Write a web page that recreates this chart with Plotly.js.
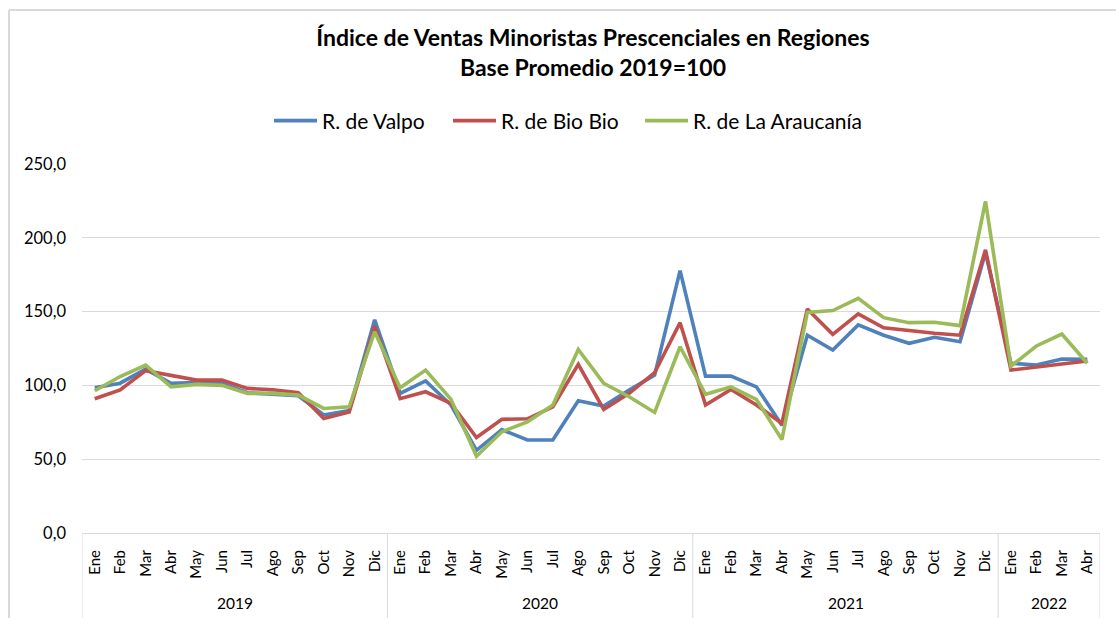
<!DOCTYPE html>
<html>
<head>
<meta charset="utf-8">
<script src="https://cdn.plot.ly/plotly-3.0.1.min.js"></script>
<style>html,body{margin:0;padding:0;background:#fff;}#chart{width:1116px;height:618px;}</style>
</head>
<body>
<div id="chart"></div>
<script>
const years = ["2019","2020","2021","2022"];
const monthsPerYear = [12,12,12,4];
const months = ["Ene","Feb","Mar","Abr","May","Jun","Jul","Ago","Sep","Oct","Nov","Dic"];

const valpo = [98.4,101.5,111,101.4,102,101.4,95,94,93,80,83,144.5,
               94.6,103,86.7,56,70,63,63,89.6,86,96.8,107,177.8,
               106.3,106.3,99,73,134,124,141,134,128.5,132.6,129.6,190,
               115,113.8,117.9,117.6];
const bioBio = [91,97,110,107,103.6,103.6,98,97,95,77.6,82,140,
                91,95.7,87.8,64.7,77,77.4,85.5,114.3,83.7,94.6,108.6,142.5,
                86.7,97.3,86.7,74.3,151.8,134.6,148.4,139,136.9,135.3,134,191.9,
                110.4,112.7,114.5,116.5];
const araucania = [96.4,106,113.8,99,100.7,100,94.6,94.6,93.4,84.4,85.5,136.4,
                   98.4,110.4,90.5,52,68.6,75.3,86.7,124.4,101.4,92.3,81.7,126.2,
                   94,99,90.5,63.3,149.5,150.7,159,145.9,142.5,142.8,140.5,224.7,
                   113,126.7,134.8,115];

// category index axis built from the month/year lists
const xMonth = [], xIdx = [];
const groupCenters = [], bounds = [0];
let cum = 0;
years.forEach((y,i)=>{
  for(let m=0;m<monthsPerYear[i];m++){ xIdx.push(xMonth.length); xMonth.push(months[m]); }
  groupCenters.push(cum + (monthsPerYear[i]-1)/2);
  cum += monthsPerYear[i];
  bounds.push(cum);
});
const nCat = xMonth.length;

const font = "Lato, 'Open Sans', sans-serif";
const mk = (name, y, color, legend) => ({
  type:'scatter', mode:'lines', name:name, x:xIdx, y:y, legend:legend,
  line:{color:color, width:3.6}, hoverinfo:'skip'
});

const data = [
  mk('R. de Valpo', valpo, '#4F81BD', 'legend'),
  mk('R. de Bio Bio', bioBio, '#C0504D', 'legend2'),
  mk('R. de La Araucanía', araucania, '#9BBB59', 'legend3')
];

const plotH = 369, plotW = 1018;
const bottomPaper = (533-625)/plotH;
const dividers = bounds.map(b=>({type:'line', xref:'x', yref:'paper', x0:b-0.5, x1:b-0.5, y0:0, y1:bottomPaper,
                 line:{color:'#d9d9d9', width:1}}));
const yearLabels = years.map((y,i)=>({text:y, xref:'x', yref:'paper', x:groupCenters[i], y:(533-603)/plotH,
                 xanchor:'center', yanchor:'middle', showarrow:false, font:{family:font, size:15.5, color:'#000'}}));

const legendBase = (px) => ({orientation:'h', x:(px-82)/plotW, xanchor:'left', y:(533-121)/plotH, yanchor:'middle',
          itemwidth:43, font:{family:font, size:21, color:'#000'}, bgcolor:'rgba(0,0,0,0)'});

const layout = {
  width:1116, height:618,
  margin:{l:82, r:16, t:164, b:85},
  paper_bgcolor:'#fff', plot_bgcolor:'#fff',
  separators:',.',
  font:{family:font, size:15, color:'#000'},
  title:{text:'<b>Índice de Ventas Minoristas Prescenciales en Regiones<br>Base Promedio 2019=100</b>',
         font:{family:font, size:23, color:'#000'},
         x:593/1116, xanchor:'center', xref:'container',
         y:1-46/618, yanchor:'middle', yref:'container'},
  showlegend:true,
  legend:legendBase(269),
  legend2:legendBase(448),
  legend3:legendBase(640),
  xaxis:{type:'linear', range:[-0.5, nCat-0.5], tickmode:'array', tickvals:xIdx, ticktext:xMonth,
         showgrid:false, zeroline:false, showline:true, linecolor:'#d9d9d9', linewidth:1,
         tickangle:-90, tickfont:{family:font, size:15, color:'#000'}, ticklabelstandoff:10, ticks:''},
  yaxis:{range:[0,250], dtick:50, tickformat:'.1f', showgrid:true, gridcolor:'#d9d9d9', gridwidth:1,
         zeroline:false, showline:false, ticks:'', ticklabelstandoff:15,
         tickfont:{family:font, size:16.5, color:'#000'}},
  annotations:yearLabels,
  shapes:[
    {type:'line', xref:'paper', yref:'paper', x0:(9-82)/1018, x1:(1120-82)/1018, y0:(533-10)/369, y1:(533-10)/369,
     line:{color:'#d9d9d9', width:2}},
    {type:'line', xref:'paper', yref:'paper', x0:(9-82)/1018, x1:(9-82)/1018, y0:(533-10)/369, y1:(533-625)/369,
     line:{color:'#d9d9d9', width:2}}
  ].concat(dividers)
};

Plotly.newPlot('chart', data, layout, {displayModeBar:false, staticPlot:true});
</script>
</body>
</html>
